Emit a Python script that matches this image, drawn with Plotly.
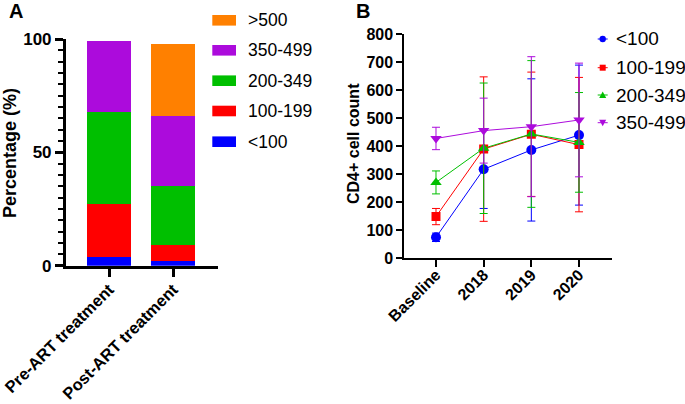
import plotly.graph_objects as go

W, H = 685, 404

# ---------------- Data ----------------
treatments = ["Pre-ART treatment", "Post-ART treatment"]
groups_A = ["<100", "100-199", "200-349", "350-499", ">500"]
pct_lt100 = [4, 2]
pct_100_199 = [23, 7]
pct_200_349 = [41, 26]
pct_350_499 = [31, 31]
pct_gt500 = [0, 32]

timepoints = ["Baseline", "2018", "2019", "2020"]
groups_B = ["<100", "100-199", "200-349", "350-499"]
mean_lt100 = [75, 318, 387, 440]
sd_lt100 = [15, 140, 254, 250]
mean_100_199 = [149, 390, 443, 406]
sd_100_199 = [29, 258, 222, 240]
mean_200_349 = [271, 393, 444, 414]
sd_200_349 = [41, 233, 262, 178]
mean_350_499 = [428, 456, 470, 494]
sd_350_499 = [40, 116, 250, 203]

# ---------------- Styles ----------------
C_BLUE = "#0000FF"
C_RED = "#FF0000"
C_GREEN = "#00BF00"
C_PURPLE = "#AC0BDC"
C_ORANGE = "#FF8000"
FONT = "Arial, Liberation Sans, sans-serif"


def X(px):
    return px / W


def Y(py):
    return 1 - py / H


fig = go.Figure()

# Panel A stacked bars
bar_series = [pct_lt100, pct_100_199, pct_200_349, pct_350_499, pct_gt500]
bar_colors = [C_BLUE, C_RED, C_GREEN, C_PURPLE, C_ORANGE]
for name, vals, col in zip(groups_A, bar_series, bar_colors):
    fig.add_trace(go.Bar(
        x=treatments, y=vals, name=name, marker=dict(color=col, line=dict(width=0)),
        width=0.68, xaxis="x", yaxis="y", showlegend=False))

# Panel B lines with error bars
line_series = [(mean_lt100, sd_lt100, C_BLUE, "circle", 10),
               (mean_100_199, sd_100_199, C_RED, "square", 9),
               (mean_200_349, sd_200_349, C_GREEN, "triangle-up", 10),
               (mean_350_499, sd_350_499, C_PURPLE, "triangle-down", 10)]
for name, (m, s, col, sym, sz) in zip(groups_B, line_series):
    fig.add_trace(go.Scatter(
        x=timepoints, y=m, name=name, mode="lines+markers",
        line=dict(color=col, width=1), marker=dict(color=col, symbol=sym, size=sz),
        error_y=dict(type="data", array=s, visible=True, color=col, thickness=1, width=4),
        xaxis="x2", yaxis="y2", showlegend=False))

tickfont = dict(family=FONT, size=16, color="black", weight="bold")

fig.update_layout(
    width=W, height=H,
    margin=dict(l=0, r=0, t=0, b=0),
    paper_bgcolor="white", plot_bgcolor="white",
    barmode="stack",
    showlegend=False,
    font=dict(family=FONT, color="black"),
    xaxis=dict(domain=[X(65.7), X(218)], range=[-0.677, 1.70], type="category",
               showline=True, linecolor="black", linewidth=2.5,
               ticks="outside", ticklen=9, tickwidth=2.5, tickcolor="black",
               tickangle=-45, tickfont=dict(family=FONT, size=16.5, color="black", weight="bold"),
               ticklabelstandoff=-4, showgrid=False, zeroline=False,
               anchor="y", automargin=False),
    yaxis=dict(domain=[Y(265.7), Y(39)], range=[0, 100], tickvals=[0, 50, 100],
               showline=True, linecolor="black", linewidth=2.5,
               ticks="outside", ticklen=8, tickwidth=2.5, tickcolor="black",
               minor=dict(dtick=5, ticks="outside", ticklen=5, tickwidth=2, tickcolor="black"),
               tickfont=dict(family=FONT, size=17, color="black", weight="bold"),
               showgrid=False, zeroline=False, anchor="x", automargin=False),
    xaxis2=dict(domain=[X(404.3), X(611.7)], range=[-0.665, 3.686], type="category",
                showline=True, linecolor="black", linewidth=2,
                ticks="outside", ticklen=7, tickwidth=2, tickcolor="black",
                tickangle=-45, tickfont=tickfont, ticklabelstandoff=-8,
                showgrid=False, zeroline=False,
                anchor="y2", automargin=False),
    yaxis2=dict(domain=[Y(258.3), Y(34.3)], range=[0, 800], dtick=100,
                showline=True, linecolor="black", linewidth=2,
                ticks="outside", ticklen=6, tickwidth=2, tickcolor="black",
                tickfont=tickfont, showgrid=False, zeroline=False,
                anchor="x2", automargin=False),
)

ann = []
shapes = []
# Panel labels
ann.append(dict(text="A", x=X(15.5), y=Y(11), xref="paper", yref="paper", showarrow=False,
                font=dict(family=FONT, size=20, color="black", weight="bold"),
                xanchor="center", yanchor="middle"))
ann.append(dict(text="B", x=X(363), y=Y(11), xref="paper", yref="paper", showarrow=False,
                font=dict(family=FONT, size=20, color="black", weight="bold"),
                xanchor="center", yanchor="middle"))
# Axis titles
ann.append(dict(text="Percentage (%)", x=X(10), y=Y(153), xref="paper", yref="paper",
                showarrow=False, textangle=-90,
                font=dict(family=FONT, size=18, color="black", weight="bold"),
                xanchor="center", yanchor="middle"))
ann.append(dict(text="CD4+ cell count", x=X(353), y=Y(143), xref="paper", yref="paper",
                showarrow=False, textangle=-90,
                font=dict(family=FONT, size=16, color="black", weight="bold"),
                xanchor="center", yanchor="middle"))

# Legend A (top: >500 ... bottom: <100)
rowsA = [20.3, 50.3, 80.7, 111, 141.7]
for yc, name, col in zip(rowsA, groups_A[::-1], bar_colors[::-1]):
    shapes.append(dict(type="rect", xref="paper", yref="paper",
                       x0=X(212.3), x1=X(236), y0=Y(yc - 5.3), y1=Y(yc + 5.3),
                       fillcolor=col, line=dict(width=0)))
    ann.append(dict(text=name, x=X(245.5), y=Y(yc), xref="paper", yref="paper",
                    showarrow=False, xanchor="left", yanchor="middle",
                    font=dict(family=FONT, size=17.5, color="black")))

# Legend B
rowsB = [39, 67.7, 95, 122.7]
cx = 602.7
for yc, name, (m, s, col, sym, sz) in zip(rowsB, groups_B, line_series):
    shapes.append(dict(type="line", xref="paper", yref="paper",
                       x0=X(cx - 5), x1=X(cx + 5), y0=Y(yc), y1=Y(yc),
                       line=dict(color=col, width=1)))
    r = 3.2
    if sym == "circle":
        shapes.append(dict(type="circle", xref="paper", yref="paper",
                           x0=X(cx - r), x1=X(cx + r), y0=Y(yc - r), y1=Y(yc + r),
                           fillcolor=col, line=dict(width=0)))
    elif sym == "square":
        shapes.append(dict(type="rect", xref="paper", yref="paper",
                           x0=X(cx - 3), x1=X(cx + 3), y0=Y(yc - 3), y1=Y(yc + 3),
                           fillcolor=col, line=dict(width=0)))
    elif sym == "triangle-up":
        p = f"M {X(cx-3.5)},{Y(yc+3)} L {X(cx+3.5)},{Y(yc+3)} L {X(cx)},{Y(yc-3.5)} Z"
        shapes.append(dict(type="path", xref="paper", yref="paper", path=p,
                           fillcolor=col, line=dict(width=0)))
    else:
        p = f"M {X(cx-3.5)},{Y(yc-3)} L {X(cx+3.5)},{Y(yc-3)} L {X(cx)},{Y(yc+3.5)} Z"
        shapes.append(dict(type="path", xref="paper", yref="paper", path=p,
                           fillcolor=col, line=dict(width=0)))
    ann.append(dict(text=name, x=X(614), y=Y(yc), xref="paper", yref="paper",
                    showarrow=False, xanchor="left", yanchor="middle",
                    font=dict(family=FONT, size=19, color="black")))

fig.update_layout(annotations=ann, shapes=shapes)

fig.write_html("out.html", config={"displayModeBar": False},
               post_script="document.body.style.margin='0px';document.body.style.overflow='hidden';")
